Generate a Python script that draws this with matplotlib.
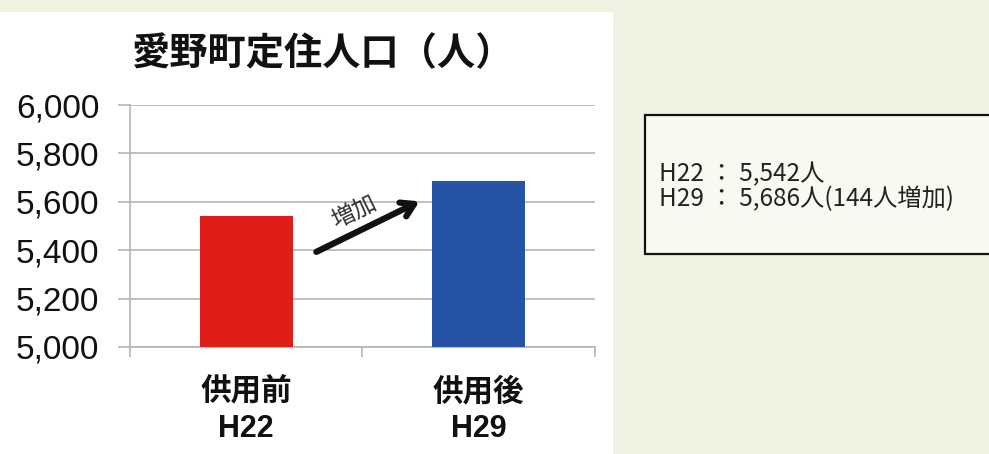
import matplotlib.pyplot as plt
from matplotlib.patches import Rectangle

plt.rcParams['font.family'] = ['Liberation Sans', 'Noto Sans CJK JP']

categories = ['供用前\nH22', '供用後\nH29']
population = [5542, 5686]
bar_colors = ['#e01e18', '#2653a4']
yticks = [5000, 5200, 5400, 5600, 5800, 6000]
title = '愛野町定住人口（人）'
note_lines = ['H22 ： 5,542人', 'H29 ： 5,686人(144人増加)']

fig = plt.figure(figsize=(9.89, 4.54), dpi=100, facecolor='#eef3e2')

# white panel behind the chart
fig.patches.append(Rectangle((0, 0), 0.62, 0.974, transform=fig.transFigure,
                             facecolor='white', edgecolor='none', zorder=-5))

ax = fig.add_axes([0.1314, 0.2357, 0.4702, 0.533])
ax.set_facecolor('none')
x = range(len(categories))
ax.bar(x, population, width=0.4, color=bar_colors, zorder=3)

ax.set_xlim(-0.5, 1.5)
ax.set_ylim(5000, 6000)
ax.set_yticks(yticks)
ax.set_yticklabels([f'{v:,}' for v in yticks], fontsize=24, color='#111111')
ax.grid(axis='y', color='#b4b4b4', linewidth=1.2, zorder=0)
ax.tick_params(axis='y', length=9, width=1.2, color='#b4b4b4', pad=13)

ax.set_xticks(list(x))
ax.set_xticklabels(categories, fontsize=22, fontweight='bold', color='#111111',
                   linespacing=1.3)
ax.set_xticks([-0.5, 0.5, 1.5], minor=True)
ax.tick_params(axis='x', which='major', length=0, pad=22)
ax.tick_params(axis='x', which='minor', length=7, width=1.2, color='#b4b4b4')

for side in ['top', 'right']:
    ax.spines[side].set_visible(False)
for side in ['left', 'bottom']:
    ax.spines[side].set_color('#b4b4b4')
    ax.spines[side].set_linewidth(1.2)

# increase arrow
ax.annotate('', xy=(0.756, population[1] - 79), xytext=(0.291, 5388),
            arrowprops=dict(arrowstyle='->,head_length=0.9,head_width=0.55',
                            lw=4.5, color='#111111'), zorder=5)
ax.text(0.465, 5555, '増加', rotation=26, fontsize=17, color='#333333',
        ha='center', va='center', zorder=5)

fig.text(0.326, 0.88, title, fontsize=27.5, fontweight='bold', ha='center',
         va='center', color='#111111')

# note box
fig.patches.append(Rectangle((0.652, 0.4405), 0.36, 0.306, transform=fig.transFigure,
                             facecolor='#f8faf2', edgecolor='#111111', linewidth=1.6,
                             zorder=1))
fig.text(0.666, 0.617, note_lines[0], fontsize=17.5, color='#222222', va='center',
         family=['Noto Sans CJK JP'])
fig.text(0.666, 0.561, note_lines[1], fontsize=17.5, color='#222222', va='center',
         family=['Noto Sans CJK JP'])

fig.savefig('out.png', dpi=100, facecolor=fig.get_facecolor())
